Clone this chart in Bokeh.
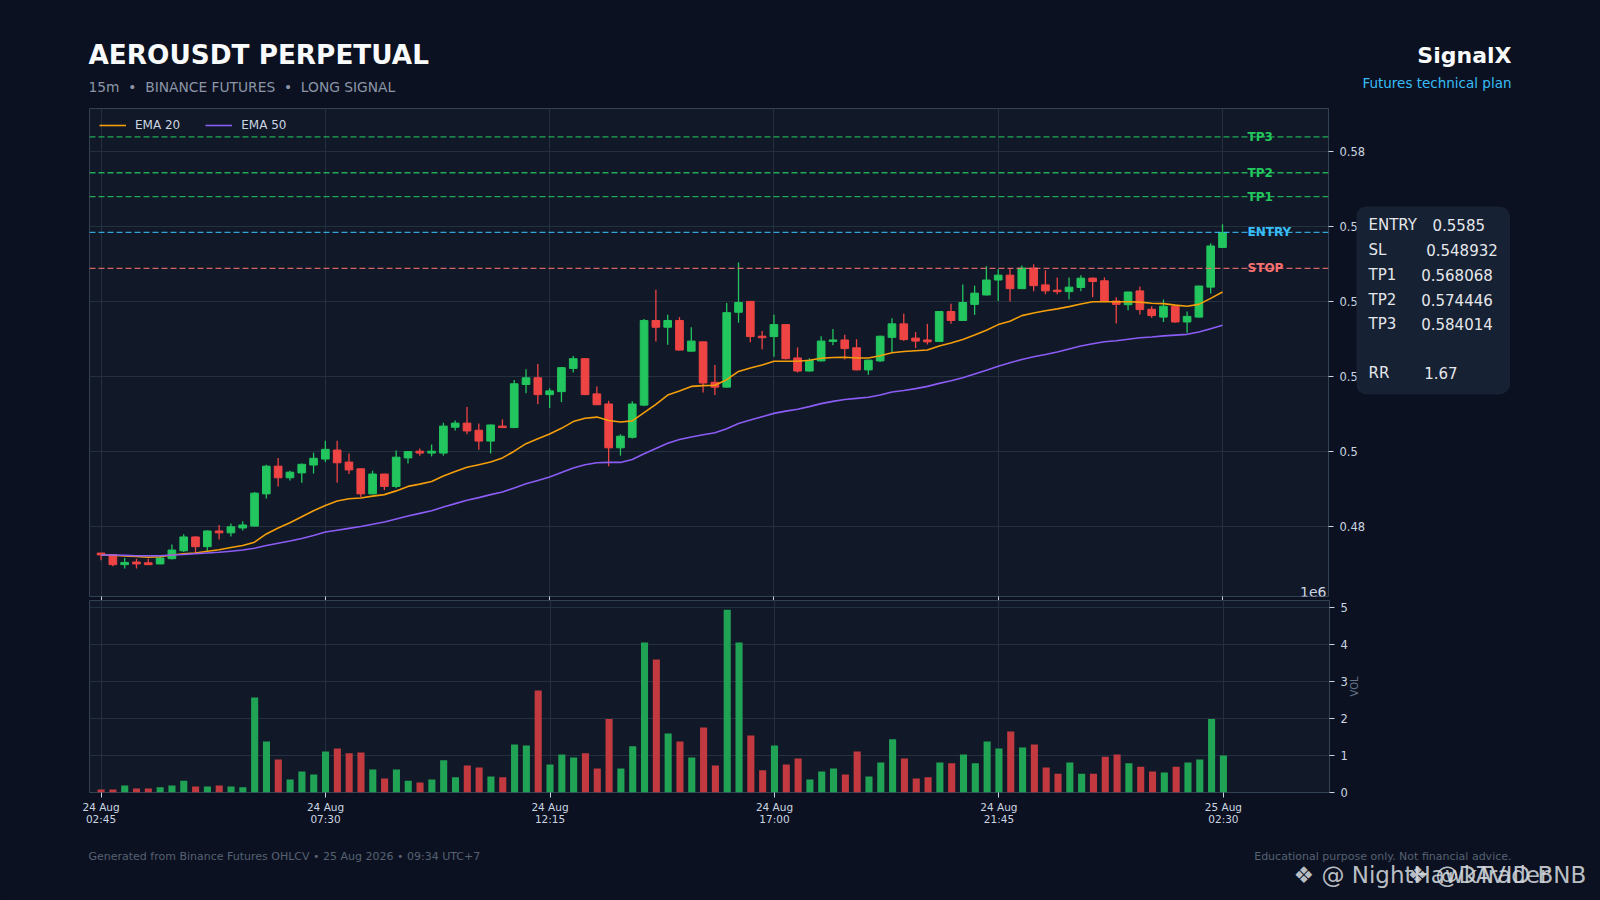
import math
from bokeh.plotting import figure
from bokeh.layouts import column, row
from bokeh.models import (Range1d, FixedTicker, CustomJSTickFormatter, Span, Label,
                          ColumnDataSource, BoxAnnotation)
from bokeh.embed import file_html
from bokeh.resources import INLINE

# ---------------- data ----------------
opens = [0.4729, 0.4725, 0.4698, 0.4705, 0.4703, 0.4700, 0.4714, 0.4735, 0.4772, 0.4746,
         0.4788, 0.4783, 0.4796, 0.4801, 0.4887, 0.4961, 0.4930, 0.4943, 0.4964, 0.4980,
         0.5004, 0.4972, 0.4954, 0.4887, 0.4940, 0.4907, 0.4983, 0.5001, 0.4996, 0.4996,
         0.5065, 0.5076, 0.5057, 0.5028, 0.5068, 0.5064, 0.5179, 0.5197, 0.5152, 0.5160,
         0.5222, 0.5248, 0.5154, 0.5127, 0.5010, 0.5038, 0.5124, 0.5350, 0.5332, 0.5350,
         0.5268, 0.5293, 0.5185, 0.5172, 0.5372, 0.5401, 0.5308, 0.5307, 0.5339, 0.5250,
         0.5215, 0.5242, 0.5294, 0.5298, 0.5277, 0.5218, 0.5242, 0.5305, 0.5341, 0.5303,
         0.5298, 0.5294, 0.5374, 0.5350, 0.5393, 0.5418, 0.5458, 0.5471, 0.5435, 0.5490,
         0.5445, 0.5431, 0.5427, 0.5438, 0.5463, 0.5456, 0.5402, 0.5392, 0.5429, 0.5380,
         0.5359, 0.5388, 0.5346, 0.5359, 0.5439, 0.5545]
highs = [0.4729, 0.4726, 0.4716, 0.4714, 0.4714, 0.4719, 0.4752, 0.4779, 0.4774, 0.4789,
         0.4804, 0.4808, 0.4814, 0.4892, 0.4965, 0.4983, 0.4949, 0.4968, 0.4997, 0.5029,
         0.5029, 0.4995, 0.4955, 0.4949, 0.4941, 0.5003, 0.5001, 0.5008, 0.5019, 0.5077,
         0.5083, 0.5119, 0.5075, 0.5072, 0.5086, 0.5191, 0.5220, 0.5234, 0.5169, 0.5226,
         0.5255, 0.5249, 0.5174, 0.5136, 0.5046, 0.5134, 0.5354, 0.5432, 0.5365, 0.5359,
         0.5332, 0.5294, 0.5231, 0.5397, 0.5505, 0.5402, 0.5322, 0.5365, 0.5340, 0.5278,
         0.5249, 0.5308, 0.5327, 0.5312, 0.5300, 0.5245, 0.5309, 0.5356, 0.5368, 0.5319,
         0.5341, 0.5375, 0.5395, 0.5446, 0.5443, 0.5495, 0.5487, 0.5488, 0.5497, 0.5500,
         0.5484, 0.5465, 0.5465, 0.5471, 0.5465, 0.5465, 0.5412, 0.5427, 0.5441, 0.5388,
         0.5406, 0.5389, 0.5374, 0.5443, 0.5556, 0.5607]
lows = [0.4710, 0.4694, 0.4688, 0.4688, 0.4697, 0.4699, 0.4712, 0.4732, 0.4727, 0.4734,
        0.4765, 0.4773, 0.4789, 0.4800, 0.4875, 0.4907, 0.4923, 0.4917, 0.4941, 0.4972,
        0.4917, 0.4940, 0.4879, 0.4886, 0.4897, 0.4902, 0.4968, 0.4989, 0.4987, 0.4989,
        0.5056, 0.5046, 0.5005, 0.4995, 0.5063, 0.5063, 0.5156, 0.5126, 0.5116, 0.5132,
        0.5211, 0.5151, 0.5124, 0.4961, 0.4989, 0.5035, 0.5121, 0.5294, 0.5285, 0.5270,
        0.5267, 0.5158, 0.5151, 0.5171, 0.5344, 0.5292, 0.5273, 0.5253, 0.5246, 0.5211,
        0.5214, 0.5241, 0.5284, 0.5246, 0.5217, 0.5205, 0.5239, 0.5266, 0.5295, 0.5276,
        0.5286, 0.5293, 0.5341, 0.5349, 0.5365, 0.5417, 0.5402, 0.5401, 0.5434, 0.5428,
        0.5420, 0.5420, 0.5406, 0.5428, 0.5412, 0.5401, 0.5342, 0.5377, 0.5366, 0.5357,
        0.5346, 0.5344, 0.5317, 0.5358, 0.5422, 0.5544]
closes = [0.4724, 0.4698, 0.4704, 0.4700, 0.4698, 0.4716, 0.4737, 0.4772, 0.4746, 0.4788,
          0.4783, 0.4799, 0.4804, 0.4889, 0.4961, 0.4930, 0.4945, 0.4966, 0.4982, 0.5006,
          0.4970, 0.4951, 0.4887, 0.4940, 0.4907, 0.4985, 0.5000, 0.4996, 0.5001, 0.5068,
          0.5076, 0.5055, 0.5028, 0.5071, 0.5064, 0.5181, 0.5197, 0.5152, 0.5162, 0.5224,
          0.5248, 0.5152, 0.5125, 0.5010, 0.5041, 0.5127, 0.5350, 0.5332, 0.5350, 0.5271,
          0.5295, 0.5183, 0.5172, 0.5371, 0.5398, 0.5307, 0.5304, 0.5339, 0.5248, 0.5215,
          0.5243, 0.5295, 0.5298, 0.5275, 0.5218, 0.5244, 0.5308, 0.5341, 0.5299, 0.5295,
          0.5293, 0.5374, 0.5350, 0.5398, 0.5423, 0.5458, 0.5471, 0.5435, 0.5490, 0.5443,
          0.5429, 0.5427, 0.5439, 0.5463, 0.5454, 0.5402, 0.5393, 0.5426, 0.5379, 0.5363,
          0.5388, 0.5346, 0.5361, 0.5442, 0.5549, 0.5585]
volume_m = [0.08, 0.08, 0.19, 0.11, 0.11, 0.14, 0.19, 0.32, 0.16, 0.16,
            0.19, 0.16, 0.14, 2.57, 1.38, 0.89, 0.35, 0.57, 0.49, 1.11,
            1.19, 1.06, 1.08, 0.62, 0.38, 0.62, 0.32, 0.27, 0.35, 0.87,
            0.41, 0.73, 0.68, 0.43, 0.41, 1.30, 1.27, 2.76, 0.76, 1.03,
            0.95, 1.06, 0.65, 1.99, 0.65, 1.25, 4.06, 3.60, 1.60, 1.38,
            0.95, 1.76, 0.73, 4.95, 4.06, 1.54, 0.60, 1.27, 0.76, 0.92,
            0.35, 0.57, 0.65, 0.49, 1.11, 0.43, 0.81, 1.44, 0.92, 0.38,
            0.41, 0.81, 0.79, 1.03, 0.79, 1.38, 1.19, 1.65, 1.22, 1.30,
            0.68, 0.51, 0.81, 0.51, 0.51, 0.97, 1.03, 0.79, 0.70, 0.57,
            0.54, 0.70, 0.81, 0.89, 1.99, 1.00]
ema20 = [0.4724, 0.4723, 0.4721, 0.4720, 0.4718, 0.4719, 0.4724, 0.4727, 0.4729, 0.4734,
         0.4738, 0.4744, 0.4749, 0.4758, 0.4780, 0.4796, 0.4810, 0.4826, 0.4842, 0.4856,
         0.4868, 0.4874, 0.4876, 0.4881, 0.4885, 0.4895, 0.4907, 0.4913, 0.4920, 0.4935,
         0.4947, 0.4958, 0.4965, 0.4972, 0.4983, 0.5001, 0.5021, 0.5034, 0.5047, 0.5062,
         0.5080, 0.5089, 0.5092, 0.5083, 0.5079, 0.5082, 0.5104, 0.5126, 0.5151, 0.5162,
         0.5174, 0.5176, 0.5177, 0.5192, 0.5214, 0.5223, 0.5231, 0.5241, 0.5241, 0.5241,
         0.5244, 0.5249, 0.5251, 0.5252, 0.5250, 0.5250, 0.5256, 0.5264, 0.5267, 0.5269,
         0.5271, 0.5282, 0.5290, 0.5299, 0.5311, 0.5324, 0.5339, 0.5348, 0.5363, 0.5370,
         0.5376, 0.5381, 0.5387, 0.5394, 0.5400, 0.5400, 0.5400, 0.5400, 0.5399, 0.5396,
         0.5395, 0.5391, 0.5388, 0.5393, 0.5409, 0.5426]
ema50 = [0.4724, 0.4724, 0.4723, 0.4722, 0.4722, 0.4722, 0.4724, 0.4725, 0.4727, 0.4729,
         0.4731, 0.4734, 0.4737, 0.4742, 0.4749, 0.4755, 0.4761, 0.4768, 0.4776, 0.4785,
         0.4790, 0.4795, 0.4800, 0.4806, 0.4812, 0.4820, 0.4828, 0.4835, 0.4842, 0.4852,
         0.4861, 0.4870, 0.4877, 0.4885, 0.4892, 0.4903, 0.4914, 0.4923, 0.4932, 0.4944,
         0.4956, 0.4965, 0.4970, 0.4971, 0.4971, 0.4979, 0.4994, 0.5008, 0.5022, 0.5032,
         0.5039, 0.5045, 0.5050, 0.5061, 0.5075, 0.5084, 0.5093, 0.5102, 0.5108, 0.5113,
         0.5120, 0.5128, 0.5134, 0.5139, 0.5142, 0.5145, 0.5151, 0.5159, 0.5163, 0.5168,
         0.5174, 0.5182, 0.5189, 0.5197, 0.5207, 0.5217, 0.5228, 0.5237, 0.5246, 0.5253,
         0.5259, 0.5266, 0.5274, 0.5282, 0.5288, 0.5293, 0.5296, 0.5300, 0.5304, 0.5306,
         0.5309, 0.5311, 0.5313, 0.5319, 0.5328, 0.5337]

tick_idx = [0, 19, 38, 57, 76, 95]
tick_labels = ["24 Aug\n02:45", "24 Aug\n07:30", "24 Aug\n12:15",
               "24 Aug\n17:00", "24 Aug\n21:45", "25 Aug\n02:30"]
price_ticks = [0.48, 0.50, 0.52, 0.54, 0.56, 0.58]
vol_ticks_m = [0, 1, 2, 3, 4, 5]

level_names = ["TP3", "TP2", "TP1", "ENTRY", "STOP"]
level_values = [0.584014, 0.574446, 0.568068, 0.5585, 0.548932]
info_keys = ["ENTRY", "SL", "TP1", "TP2", "TP3", "RR"]
info_vals = ["0.5585", "0.548932", "0.568068", "0.574446", "0.584014", "1.67"]

# ---------------- styling / layout constants (page pixels) ----------------
FONT = "DejaVu Sans"
BG = "#0b1120"
PLOT_BG = "#111827"
GRID = "#242f40"
FRAME = "#334155"
TICK = "#cbd5e1"
MUTED = "#64748b"
UP, DOWN = "#22c55e", "#ef4444"
VUP, VDOWN = "#21a356", "#c23a40"
level_colors = {"TP3": "#22c55e", "TP2": "#22c55e", "TP1": "#22c55e",
                "ENTRY": "#38bdf8", "STOP": "#f87171"}
NB = "\u00a0"

W = 1600
HEAD_H = 100
PW, PH = 1368, 500          # price figure
FL, FW, FT, FH = 89, 1240, 8, 488
VH, VB = 192, 38            # volume frame height, bottom border
FOOT_H = 70
X0, X1 = -0.98, 103.98
P0, P1 = 0.4613, 0.5916
V1 = 5.197e6

def xd(X):   # page pixel -> index units
    return X0 + (X - FL) / FW * (X1 - X0)

idx = list(range(len(opens)))
is_up = [c >= o for o, c in zip(opens, closes)]
src = ColumnDataSource(dict(
    x=idx, o=opens, h=highs, l=lows, c=closes,
    top=[max(o, c) for o, c in zip(opens, closes)],
    bottom=[min(o, c) for o, c in zip(opens, closes)],
    color=[UP if u else DOWN for u in is_up],
    vcolor=[VUP if u else VDOWN for u in is_up],
    vol=[vv * 1e6 for vv in volume_m],
))

def blank(width, height, transparent=False):
    kw = dict(styles={"background-color": BG})
    if transparent:
        kw = dict(background_fill_alpha=0, border_fill_alpha=0)
    return figure(width=width, height=height, min_border=0, x_axis_type=None, y_axis_type=None,
                  x_range=Range1d(0, width), y_range=Range1d(height, 0),
                  output_backend="svg", toolbar_location=None, title=None,
                  background_fill_color=BG, border_fill_color=BG, outline_line_color=None, **kw)

def txt(fig, x, y, text, size, color, bold=False, align="left", baseline="alphabetic", alpha=1.0):
    fig.add_layout(Label(x=x, y=y, text=text, text_color=color, text_alpha=alpha,
                         text_font=FONT, text_font_size=size,
                         text_font_style="bold" if bold else "normal",
                         text_align=align, text_baseline=baseline))

# ---------------- header (page y 0..100) ----------------
head = blank(W, HEAD_H)
txt(head, 88, 54, "AEROUSDT PERPETUAL", "26.3px", "#f8fafc", bold=True)
txt(head, 88, 86, "15m" + NB * 2 + "\u2022" + NB * 2 + "BINANCE FUTURES" + NB * 2 + "\u2022"
    + NB * 2 + "LONG SIGNAL", "13.8px", "#8b95a7")
txt(head, 1511, 55, "SignalX", "22px", "#f8fafc", bold=True, align="right")
txt(head, 1511, 82.5, "Futures technical plan", "13.5px", "#38bdf8", align="right")

xr = Range1d(X0, X1)

# ---------------- price figure (page y 100..600) ----------------
p = figure(width=PW, height=PH, min_border_left=FL, min_border_right=PW - FL - FW,
           min_border_top=FT, min_border_bottom=PH - FT - FH, x_range=xr, y_range=Range1d(P0, P1),
           y_axis_location="right", output_backend="svg", toolbar_location=None,
           background_fill_color=PLOT_BG, border_fill_color=BG,
           outline_line_color=FRAME, outline_line_width=1, title=None,
           styles={"background-color": BG})

p.segment(x0="x", y0="l", x1="x", y1="h", line_color="color", line_width=1.3, source=src)
p.vbar(x="x", width=0.65, top="top", bottom="bottom", fill_color="color",
       line_color="color", line_width=1, source=src)
p.line(idx, ema20, line_color="#f59e0b", line_width=1.6, legend_label="EMA 20")
p.line(idx, ema50, line_color="#8b5cf6", line_width=1.6, legend_label="EMA 50")

for name, lv in zip(level_names, level_values):
    col = level_colors[name]
    p.add_layout(Label(x=xd(1248), y=lv, text=name, text_color=col, text_font=FONT,
                       text_font_size="12px", text_font_style="bold",
                       text_baseline="middle", text_align="left"))
    p.add_layout(Span(location=lv, dimension="width", line_color=col, line_alpha=0.85,
                      line_dash="6 3", line_width=1.3))

ya = p.yaxis[0]
ya.ticker = FixedTicker(ticks=price_ticks)
ya.formatter = CustomJSTickFormatter(code="return String(Number(tick.toFixed(2)));")
xa = p.xaxis[0]
xa.ticker = FixedTicker(ticks=tick_idx)
xa.major_label_overrides = {t: "" for t in tick_idx}
xa.major_label_standoff = 0
for ax in (ya, xa):
    ax.axis_line_color = None
    ax.major_tick_line_color = TICK
    ax.major_tick_out = 5
    ax.major_tick_in = 0
    ax.minor_tick_line_color = None
    ax.major_label_text_color = TICK
    ax.major_label_text_font = FONT
ya.major_label_text_font_size = "11.5px"
ya.major_label_standoff = 6
xa.major_tick_out = 4
xa.major_label_text_font_size = "1px"
p.xgrid.grid_line_color = GRID
p.ygrid.grid_line_color = GRID

lg = p.legend[0]
lg.location = "top_left"
lg.orientation = "horizontal"
lg.background_fill_alpha = 0
lg.border_line_alpha = 0
lg.label_text_color = TICK
lg.label_text_font = FONT
lg.label_text_font_size = "12px"
lg.glyph_width = 27
lg.glyph_height = 14
lg.label_height = 14
lg.label_standoff = 9
lg.spacing = 25
lg.margin = 4
lg.padding = 6

p.add_layout(Label(x=X1, y=P0, x_offset=-2, text="1e6", text_color=TICK, text_font=FONT,
                   text_font_size="14px", text_align="right", text_baseline="bottom"))

# ---------------- info box (transparent figure overlapping the price axis area) ----------------
info = figure(width=W - PW, height=PH, min_border_left=0, min_border_right=0,
              min_border_top=FT, min_border_bottom=PH - FT - FH,
              x_axis_type=None, y_axis_type=None, output_backend="svg", toolbar_location=None,
              title=None, background_fill_alpha=0, border_fill_alpha=0, outline_line_color=None)
BOX_L = 1368
try:
    info.margin = (0, 0, 0, -12)
    info.width = W - PW + 12
    BOX_L = 1356
except Exception:
    pass
info.x_range = Range1d(BOX_L, BOX_L + info.width)
info.y_range = Range1d(100 + FT + FH, 100 + FT)      # page y coordinates
info.add_layout(BoxAnnotation(left=BOX_L, right=BOX_L + 153, top=206.7, bottom=393.3,
                              fill_color="#162133", fill_alpha=1.0,
                              line_color="#2f3b4f", line_width=1.2, border_radius=10))
info_y = [224.5, 249.5, 274.3, 299.0, 323.3, 372.7]
info_vx = [76, 69.7, 64.7, 64.7, 64.7, 67.7]
for k, val, yy, vx in zip(info_keys, info_vals, info_y, info_vx):
    txt(info, BOX_L + 12, yy, k, "15px", "#e5e7eb", baseline="middle")
    txt(info, BOX_L + vx, yy, val, "15px", "#e5e7eb", baseline="middle")

# ---------------- volume figure (page y 600..830) ----------------
v = figure(width=W, height=VH + VB, min_border_left=FL, min_border_right=W - FL - FW,
           min_border_top=0, min_border_bottom=VB, x_range=xr, y_range=Range1d(0, V1),
           y_axis_location="right", output_backend="svg", toolbar_location=None,
           background_fill_color=PLOT_BG, border_fill_color=BG,
           outline_line_color=FRAME, outline_line_width=1, title=None,
           styles={"background-color": BG})
v.vbar(x="x", width=0.6, top="vol", bottom=0, fill_color="vcolor", line_color=None, source=src)

vya = v.yaxis[0]
vya.ticker = FixedTicker(ticks=[t * 1e6 for t in vol_ticks_m])
vya.formatter = CustomJSTickFormatter(code="return (tick/1e6).toFixed(0);")
vya.axis_label = "VOL"
vya.axis_label_text_font = FONT
vya.axis_label_text_font_size = "10px"
vya.axis_label_text_font_style = "normal"
vya.axis_label_text_color = MUTED
vya.axis_label_standoff = 4
if hasattr(vya, "axis_label_orientation"):
    vya.axis_label_orientation = math.pi / 2
vxa = v.xaxis[0]
vxa.ticker = FixedTicker(ticks=tick_idx)
vxa.major_label_overrides = {t: lab for t, lab in zip(tick_idx, tick_labels)}
for ax in (vya, vxa):
    ax.axis_line_color = None
    ax.major_tick_line_color = TICK
    ax.major_tick_out = 5
    ax.major_tick_in = 0
    ax.minor_tick_line_color = None
    ax.major_label_text_color = TICK
    ax.major_label_text_font = FONT
vya.major_label_text_font_size = "11.5px"
vya.major_label_standoff = 6
vxa.major_label_text_font_size = "10.5px"
vxa.major_label_text_line_height = 1.0
vxa.major_label_standoff = 3
v.xgrid.grid_line_color = GRID
v.ygrid.grid_line_color = GRID

# ---------------- footer (page y 830..900) ----------------
foot = blank(W, FOOT_H)
txt(foot, 88, 26, "Generated from Binance Futures OHLCV \u2022 25 Aug 2026 \u2022 09:34 UTC+7",
    "11px", "#566173", baseline="middle")
txt(foot, 1511, 26, "Educational purpose only. Not financial advice.", "11px", "#566173",
    align="right", baseline="middle")
txt(foot, 1293, 44, "\u2756 @ NightHawkTrader", "23px", "#d1d5db", baseline="middle", alpha=0.9)
txt(foot, 1407, 44, "\u2756 @DAVID BNB", "23px", "#d1d5db", baseline="middle", alpha=0.9)

layout = column(row(head), row(p, info, spacing=0), row(v), row(foot), spacing=0,
                styles={"background-color": BG})
html = file_html(layout, INLINE, title="AEROUSDT PERPETUAL")
html = html.replace("<body>", '<body style="background-color:%s;">' % BG, 1)
open("out.html", "w").write(html)
